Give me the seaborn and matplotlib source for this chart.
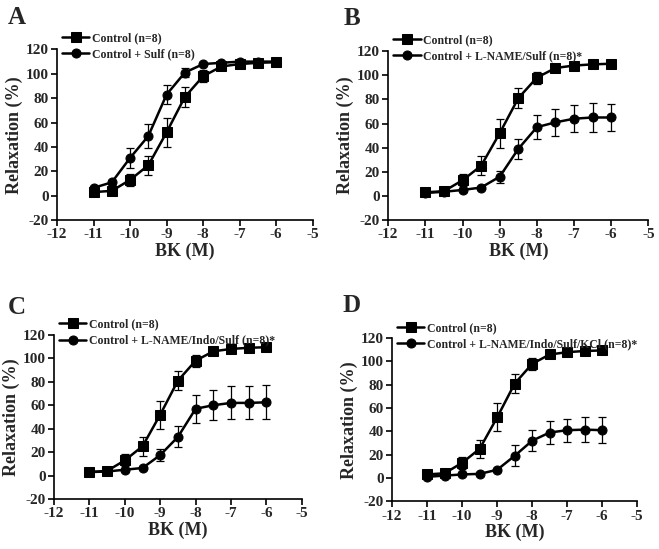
import numpy as np
import pandas as pd
import matplotlib
matplotlib.use('Agg')
import matplotlib.pyplot as plt
import seaborn as sns

# log molar bradykinin concentrations
conc = [-11, -10.5, -10, -9.5, -9, -8.5, -8, -7.5, -7, -6.5, -6]

# control curve is shared by all panels
control = [3, 4, 13, 25, 52, 81, 98, 106, 108, 109, 109.5]
control_err = [1, 1, 5, 8, 12, 8, 5, 2, 1, 1, 1]

sulf = [6.5, 11, 31, 49, 83, 101, 108, 109, 110, 110, 110]
sulf_err = [1, 2, 8, 10, 8, 4, 1, 1, 1, 1, 1]

lname = [2.5, 3.5, 5, 7, 16, 39, 57, 61, 64, 65, 65]
lname_err = [1, 1, 2, 1, 5, 8, 10, 11, 11, 12, 11]

indo = [3, 3.5, 5, 6.5, 17.5, 33, 57, 60, 62, 62, 62.5]
indo_err = [1, 1, 1, 1, 5, 9, 12, 13, 14, 14, 14.5]

kcl = [1, 2, 3, 3.5, 7, 19, 32, 39, 41, 41.5, 41]
kcl_err = [0.5, 0.5, 0.5, 0.5, 1, 9, 9, 10, 10, 11, 11]

panels = [
    ('A', 'Control + Sulf (n=8)', sulf, sulf_err),
    ('B', 'Control + L-NAME/Sulf (n=8)*', lname, lname_err),
    ('C', 'Control + L-NAME/Indo/Sulf (n=8)*', indo, indo_err),
    ('D', 'Control + L-NAME/Indo/Sulf/KCl (n=8)*', kcl, kcl_err),
]

# axes boxes in figure fractions [left, bottom, width, height]
boxes = [
    [0.0865, 0.599, 0.388, 0.311],
    [0.589, 0.599, 0.395, 0.308],
    [0.082, 0.091, 0.376, 0.299],
    [0.595, 0.087, 0.372, 0.297],
]
# panel letter positions (figure fractions)
letter_pos = [(0.012, 0.969), (0.522, 0.967), (0.012, 0.44), (0.519, 0.443)]

sns.set_style('ticks')
plt.rcParams['font.family'] = ['Liberation Serif', 'DejaVu Serif']
plt.rcParams['font.weight'] = 'bold'
plt.rcParams['axes.labelweight'] = 'bold'
plt.rcParams['axes.unicode_minus'] = False

fig = plt.figure(figsize=(6.59, 5.49), dpi=100)

for (letter, label, vals, errs), box, lp in zip(panels, boxes, letter_pos):
    ax = fig.add_axes(box)
    df = pd.DataFrame({
        'conc': conc * 2,
        'relax': control + vals,
        'group': ['Control (n=8)'] * len(conc) + [label] * len(conc),
    })
    ax.errorbar(conc, control, yerr=control_err, fmt='none', ecolor='black',
                elinewidth=0.9, capsize=2.8, capthick=0.9, zorder=2)
    ax.errorbar(conc, vals, yerr=errs, fmt='none', ecolor='black',
                elinewidth=0.9, capsize=2.8, capthick=0.9, zorder=2)
    sns.lineplot(data=df, x='conc', y='relax', hue='group', style='group',
                 markers=['s', 'o'], dashes=False, palette=['black', 'black'],
                 markersize=6.5, linewidth=1.8, markeredgecolor='black',
                 ax=ax, zorder=3, clip_on=False)
    ax.set_xlim(-12, -5)
    ax.set_ylim(-20, 120)
    ax.set_xticks(np.arange(-12, -4, 1))
    ax.set_yticks(np.arange(-20, 121, 20))
    sns.despine(ax=ax)
    for side in ['left', 'bottom']:
        ax.spines[side].set_linewidth(1.2)
        ax.spines[side].set_color('black')
    ax.tick_params(axis='both', length=4, width=1.2, labelsize=11, pad=2,
                   color='black')
    for t in ax.get_xticklabels() + ax.get_yticklabels():
        t.set_fontweight('bold')
    ax.set_xlabel('BK (M)', fontsize=13, fontweight='bold', labelpad=1)
    ax.set_ylabel('Relaxation (%)', fontsize=13, fontweight='bold', labelpad=2)
    ax.legend(loc='upper left', bbox_to_anchor=(0.02, 1.1), frameon=False,
              handlelength=2.3, handletextpad=0.2, labelspacing=0.36,
              borderaxespad=0, borderpad=0,
              prop={'weight': 'bold', 'size': 8.5})
    fig.text(lp[0], lp[1], letter, fontsize=18, fontweight='bold',
             va='center', ha='left')

fig.savefig('out.png', dpi=100)
